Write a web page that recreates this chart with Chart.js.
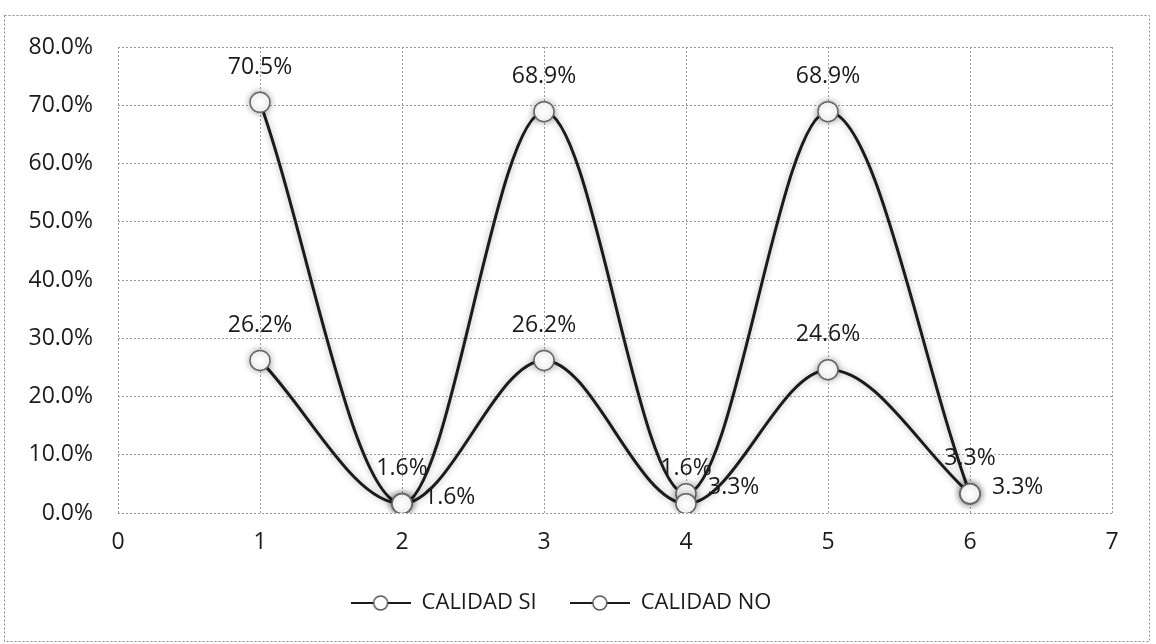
<!DOCTYPE html>
<html>
<head>
<meta charset="utf-8">
<script src="https://cdn.jsdelivr.net/npm/chart.js@4/dist/chart.umd.min.js"></script>
<style>
  html, body { margin: 0; padding: 0; background: #fff; }
  canvas { display: block; }
</style>
</head>
<body>
<canvas id="calidad" width="1156" height="644"></canvas>
<script>
// values in percent
const xValues = [1, 2, 3, 4, 5, 6];
const calidadSi = [26.2, 1.6, 26.2, 1.6, 24.6, 3.3];
const calidadNo = [70.5, 1.6, 68.9, 3.3, 68.9, 3.3];
const seriesNames = ['CALIDAD SI', 'CALIDAD NO'];

const FONT = "'Open Sans', sans-serif";
const INK = '#1b1b1b';

function toPoints(ys) {
  return xValues.map((x, i) => ({ x, y: ys[i] }));
}

function pct(v) {
  return v.toFixed(1) + '%';
}

// legend swatch: short line with a hollow circle in the middle
function legendSwatch() {
  const c = document.createElement('canvas');
  c.width = 60; c.height = 18;
  const g = c.getContext('2d');
  g.strokeStyle = INK;
  g.lineWidth = 2;
  g.beginPath();
  g.moveTo(0, 9); g.lineTo(60, 9);
  g.stroke();
  g.fillStyle = '#fff';
  g.strokeStyle = '#555';
  g.lineWidth = 1.5;
  g.beginPath();
  g.arc(30, 9, 7, 0, Math.PI * 2);
  g.fill(); g.stroke();
  return c;
}
const swatch = legendSwatch();

// dotted frame around the whole chart
const framePlugin = {
  id: 'frame',
  beforeDraw(chart) {
    const ctx = chart.ctx;
    ctx.save();
    ctx.fillStyle = '#fff';
    ctx.fillRect(0, 0, chart.width, chart.height);
    ctx.strokeStyle = '#8c8c8c';
    ctx.lineWidth = 1;
    ctx.setLineDash([2, 2]);
    ctx.strokeRect(4.5, 15.5, 1145, 626);
    ctx.restore();
  }
};

// soft grey halo under lines and markers
const haloPlugin = {
  id: 'halo',
  beforeDatasetDraw(chart) {
    const ctx = chart.ctx;
    ctx.save();
    ctx.shadowColor = 'rgba(0,0,0,0.32)';
    ctx.shadowBlur = 7;
  },
  afterDatasetDraw(chart) {
    chart.ctx.restore();
  }
};

// value labels: above the point, or to the right for low points when asked
const valueLabels = {
  id: 'valueLabels',
  afterDatasetsDraw(chart) {
    const ctx = chart.ctx;
    ctx.save();
    ctx.font = '23px ' + FONT;
    ctx.fillStyle = INK;
    ctx.textBaseline = 'middle';
    chart.data.datasets.forEach((ds, di) => {
      const meta = chart.getDatasetMeta(di);
      meta.data.forEach((pt, i) => {
        const v = ds.data[i].y;
        if (ds.lowLabelSide === 'right' && v < 10) {
          ctx.textAlign = 'left';
          ctx.fillText(pct(v), pt.x + 22, pt.y - 6);
        } else {
          ctx.textAlign = 'center';
          ctx.fillText(pct(v), pt.x, pt.y - 35);
        }
      });
    });
    ctx.restore();
  }
};

const lineStyle = {
  showLine: true,
  borderColor: INK,
  borderWidth: 3,
  tension: 0.34,
  pointRadius: 10,
  pointHoverRadius: 10,
  pointBackgroundColor: '#fff',
  pointBorderColor: '#666',
  pointBorderWidth: 1.5,
  pointStyle: 'circle'
};

new Chart(document.getElementById('calidad'), {
  type: 'scatter',
  data: {
    datasets: [
      Object.assign({ label: seriesNames[0], data: toPoints(calidadSi), lowLabelSide: 'above' }, lineStyle),
      Object.assign({ label: seriesNames[1], data: toPoints(calidadNo), lowLabelSide: 'right' }, lineStyle)
    ]
  },
  options: {
    responsive: false,
    animation: false,
    layout: { padding: { left: 10, right: 44, top: 47, bottom: 20 } },
    scales: {
      x: {
        type: 'linear',
        min: 0,
        max: 7,
        afterFit(scale) { scale.height = 46; },
        border: { display: false, dash: [2, 2] },
        grid: { color: '#9a9a9a', drawTicks: false },
        ticks: {
          stepSize: 1,
          padding: 16,
          color: INK,
          font: { family: FONT, size: 23 }
        }
      },
      y: {
        min: 0,
        max: 80,
        afterFit(scale) { scale.width = 108; },
        border: { display: false, dash: [2, 2] },
        grid: { color: '#9a9a9a', drawTicks: false },
        ticks: {
          stepSize: 10,
          padding: 25,
          color: INK,
          font: { family: FONT, size: 23 },
          callback: v => pct(v)
        }
      }
    },
    plugins: {
      tooltip: { enabled: false },
      legend: {
        position: 'bottom',
        labels: {
          usePointStyle: true,
          pointStyle: swatch,
          pointStyleWidth: 60,
          padding: 33,
          color: INK,
          font: { family: FONT, size: 22 }
        }
      }
    }
  },
  plugins: [framePlugin, haloPlugin, valueLabels]
});
</script>
</body>
</html>
